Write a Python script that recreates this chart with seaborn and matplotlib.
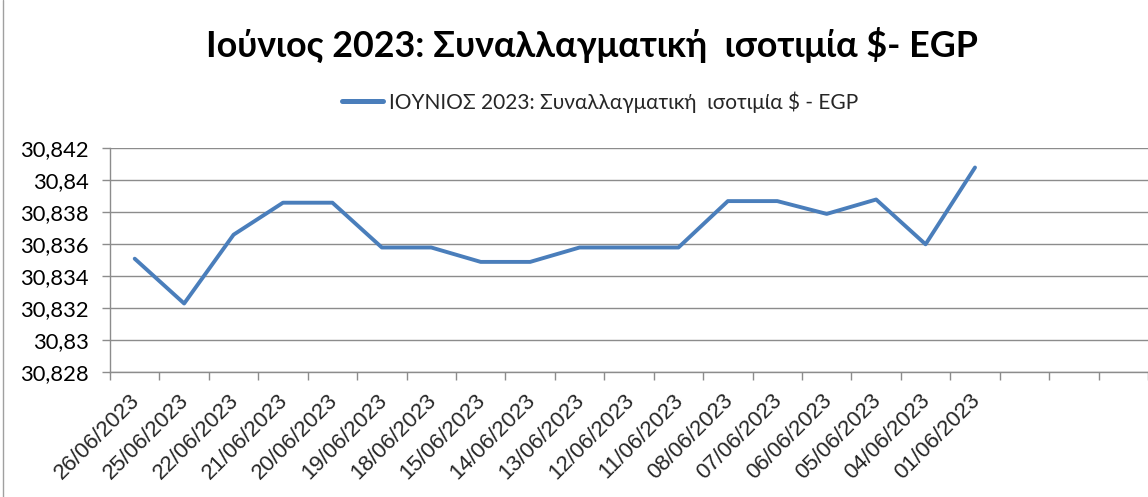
import matplotlib
matplotlib.use("Agg")
import matplotlib.pyplot as plt
from matplotlib.lines import Line2D
import numpy as np
import pandas as pd
import seaborn as sns

dates = ["26/06/2023", "25/06/2023", "22/06/2023", "21/06/2023", "20/06/2023",
         "19/06/2023", "18/06/2023", "15/06/2023", "14/06/2023", "13/06/2023",
         "12/06/2023", "11/06/2023", "08/06/2023", "07/06/2023", "06/06/2023",
         "05/06/2023", "04/06/2023", "01/06/2023"]
rates = [30.8351, 30.8323, 30.8366, 30.8386, 30.8386,
         30.8358, 30.8358, 30.8349, 30.8349, 30.8358,
         30.8358, 30.8358, 30.8387, 30.8387, 30.8379,
         30.8388, 30.8360, 30.8408]
empty_slots = 3
y_ticks = [30.828, 30.83, 30.832, 30.834, 30.836, 30.838, 30.84, 30.842]
title = "Ιούνιος 2023: Συναλλαγματική  ισοτιμία $- EGP"
series_name = "ΙΟΥΝΙΟΣ 2023: Συναλλαγματική  ισοτιμία $ - EGP"

sns.set_theme(style="white")
plt.rcParams['font.family'] = ['Lato', 'DejaVu Sans']

W, H = 1148, 497
fig = plt.figure(figsize=(W / 100, H / 100), dpi=100)
left, right, top, bottom = 110, 1148, 148.3, 372.3
ax = fig.add_axes([left / W, 1 - bottom / H, (right - left) / W, (bottom - top) / H])

df = pd.DataFrame({"pos": np.arange(len(dates)), "rate": rates, "series": series_name})
sns.lineplot(data=df, x="pos", y="rate", hue="series", palette=["#4a7ebb"],
             linewidth=2.8, ax=ax, legend=False)

ncat = len(dates) + empty_slots
ax.set_xlim(-0.5, ncat - 0.5)
ax.set_ylim(y_ticks[0], y_ticks[-1])
ax.set_yticks(y_ticks)
ax.set_yticklabels([("%g" % v).replace(".", ",") for v in y_ticks])
ax.yaxis.grid(True, color="#8c8c8c", linewidth=1.0)
ax.xaxis.grid(False)

ax.set_xticks(np.arange(ncat + 1) - 0.5)
ax.set_xticklabels([])
ax.set_xticks(np.arange(len(dates)), minor=True)
ax.set_xticklabels(dates, minor=True, rotation=45, ha="right", va="center_baseline",
                   rotation_mode="anchor", fontsize=16, family=["Liberation Sans", "DejaVu Sans"])
ax.tick_params(axis="x", which="major", length=6, width=1, color="#8c8c8c", direction="out", bottom=True)
ax.tick_params(axis="x", which="minor", length=0, pad=17)
ax.tick_params(axis="y", which="major", length=6, width=1, color="#8c8c8c", direction="out", left=True,
               labelsize=15.8, pad=9)
for t in ax.get_yticklabels():
    t.set_color("#000000")

for s in ["top", "right"]:
    ax.spines[s].set_visible(False)
for s in ["left", "bottom"]:
    ax.spines[s].set_color("#8c8c8c")
    ax.spines[s].set_linewidth(1.0)

ax.set_xlabel("")
ax.set_ylabel("")

fig.text(592 / W, 1 - 45 / H, title, ha="center", va="center", fontsize=25.8, fontweight="bold",
         color="black")

handle = Line2D([], [], color="#4a7ebb", linewidth=3.6)
fig.legend([handle], [series_name], loc="center", bbox_to_anchor=(600 / W, 1 - 102 / H),
           frameon=False, fontsize=15.0, handlelength=1.95, handletextpad=0.3)

# left border line of the sheet
fig.add_artist(Line2D([3 / W, 3 / W], [0, 1], color="#a0a0a0", linewidth=1.0))

fig.savefig("out.png", dpi=100)
